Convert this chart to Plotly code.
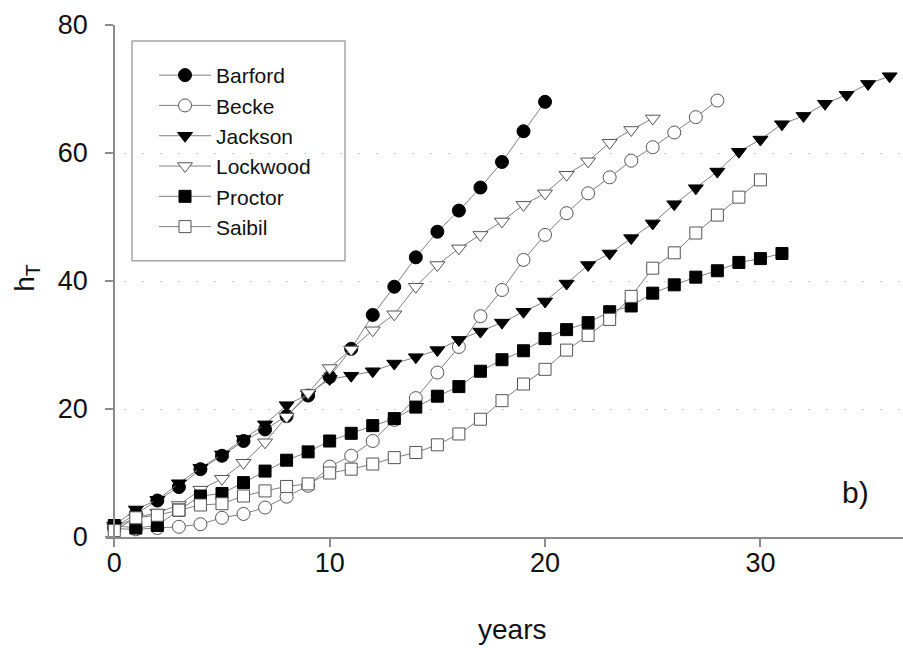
import plotly.graph_objects as go

# ---------------- data ----------------
barford_years = list(range(0, 21))
barford_h = [1.5, 3.6, 5.7, 7.8, 10.6, 12.7, 15.0, 16.8, 18.9, 22.1, 25.0,
             29.4, 34.7, 39.1, 43.7, 47.7, 51.0, 54.6, 58.6, 63.4, 68.0]

becke_years = list(range(0, 29))
becke_h = [1.3, 1.2, 1.4, 1.6, 2.0, 3.0, 3.6, 4.6, 6.3, 8.0, 11.0,
           12.7, 15.0, 18.3, 21.7, 25.7, 29.7, 34.5, 38.6, 43.3, 47.2,
           50.6, 53.7, 56.2, 58.8, 60.9, 63.2, 65.6, 68.2]

jackson_years = list(range(0, 37))
jackson_h = [1.8, 4.3, 5.8, 8.4, 10.8, 12.9, 15.3, 17.6, 20.6, 22.3, 24.7,
             25.2, 25.9, 27.1, 28.1, 29.2, 30.8, 32.1, 33.5, 35.2, 36.8,
             39.6, 42.5, 44.3, 46.7, 49.0, 52.0, 54.5, 57.1, 60.2, 62.1,
             64.5, 65.8, 67.7, 69.1, 70.8, 72.0]

lockwood_years = list(range(0, 26))
lockwood_h = [1.5, 3.0, 3.8, 5.0, 7.4, 9.1, 11.6, 14.8, 18.8, 22.5, 26.4,
              29.3, 32.3, 34.8, 39.1, 42.5, 45.1, 47.2, 49.3, 51.9, 53.7,
              56.6, 58.7, 61.6, 63.6, 65.4]

proctor_years = list(range(0, 32))
proctor_h = [1.8, 1.4, 1.8, 4.2, 6.4, 6.8, 8.5, 10.3, 12.0, 13.3, 15.0,
             16.2, 17.4, 18.5, 20.3, 22.0, 23.5, 25.9, 27.7, 29.1, 31.0,
             32.4, 33.5, 35.2, 36.1, 38.1, 39.4, 40.6, 41.6, 42.9, 43.5, 44.3]

saibil_years = list(range(0, 31))
saibil_h = [1.0, 3.0, 3.4, 4.2, 5.0, 5.2, 6.4, 7.2, 7.9, 8.3, 10.0,
            10.6, 11.4, 12.4, 13.2, 14.4, 16.1, 18.4, 21.3, 23.9, 26.2,
            29.2, 31.5, 34.0, 37.6, 42.0, 44.4, 47.5, 50.3, 53.1, 55.8]

x_ticks = [0, 10, 20, 30]
y_ticks = [0, 20, 40, 60, 80]

series = [
    ("Barford", barford_years, barford_h, "circle", "black", "black"),
    ("Becke", becke_years, becke_h, "circle", "white", "#555555"),
    ("Jackson", jackson_years, jackson_h, "triangle-down", "black", "black"),
    ("Lockwood", lockwood_years, lockwood_h, "triangle-down", "white", "#555555"),
    ("Proctor", proctor_years, proctor_h, "square", "black", "black"),
    ("Saibil", saibil_years, saibil_h, "square", "white", "#555555"),
]

FONT = "Arial, Liberation Sans, sans-serif"

fig = go.Figure()
for name, xs, ys, sym, fill, edge in series:
    size = 12 if sym == "square" else 13
    fig.add_trace(go.Scatter(
        x=xs, y=ys, name=name, mode="lines+markers",
        line=dict(color="#808080", width=1),
        marker=dict(symbol=sym, size=size, color=fill,
                    line=dict(color=edge, width=1)),
        cliponaxis=False,
    ))

W, H = 903, 648
L, R, T, B = 106, 0, 25, 110.5
pw, ph = W - L - R, H - T - B
xr = [-0.385, 36.62]

def px2x(px):
    return (px - L) / pw

def py2y(py):
    return (H - B - py) / ph

fig.update_layout(
    width=W, height=H,
    margin=dict(l=L, r=R, t=T, b=B, pad=0),
    plot_bgcolor="white", paper_bgcolor="white",
    font=dict(family=FONT, color="#111111"),
    showlegend=True,
    legend=dict(
        x=px2x(154), y=py2y(55), xanchor="left", yanchor="top",
        bgcolor="rgba(0,0,0,0)", borderwidth=0,
        font=dict(size=21, family=FONT, color="#111111"),
        itemwidth=52,
    ),
    xaxis=dict(
        range=xr, tickvals=x_ticks, showgrid=False, zeroline=False,
        showline=True, linecolor="#8c8c8c", linewidth=2,
        ticks="outside", ticklen=8, tickwidth=1.5, tickcolor="#8c8c8c",
        tickfont=dict(size=27, family=FONT, color="#111111"),
        ticklabelstandoff=-7,
    ),
    yaxis=dict(
        range=[0, 80], tickvals=y_ticks, zeroline=False,
        showgrid=True, gridcolor="#d0d0d0", gridwidth=1, griddash="2px,16px",
        showline=True, linecolor="#8c8c8c", linewidth=2,
        anchor="free", position=(0 - xr[0]) / (xr[1] - xr[0]),
        ticks="outside", ticklen=8, tickwidth=1.5, tickcolor="#8c8c8c",
        tickfont=dict(size=27, family=FONT, color="#111111"),
        ticklabelstandoff=12,
    ),
    shapes=[dict(
        type="rect", xref="paper", yref="paper",
        x0=px2x(132), x1=px2x(345), y0=py2y(261), y1=py2y(41),
        line=dict(color="#a6a6a6", width=1.5), fillcolor="rgba(0,0,0,0)",
        layer="below",
    )],
    annotations=[
        dict(text="years", xref="paper", yref="paper",
             x=px2x(512), y=py2y(630), showarrow=False,
             font=dict(size=28, family=FONT, color="#111111"),
             xanchor="center", yanchor="middle"),
        dict(text="h<sub>T</sub>", xref="paper", yref="paper",
             x=px2x(27), y=py2y(278), showarrow=False, textangle=-90,
             font=dict(size=28, family=FONT, color="#111111"),
             xanchor="center", yanchor="middle"),
        dict(text="b)", xref="paper", yref="paper",
             x=px2x(855), y=py2y(493), showarrow=False,
             font=dict(size=30, family=FONT, color="#111111"),
             xanchor="center", yanchor="middle"),
    ],
)

fig.write_html("out.html")
